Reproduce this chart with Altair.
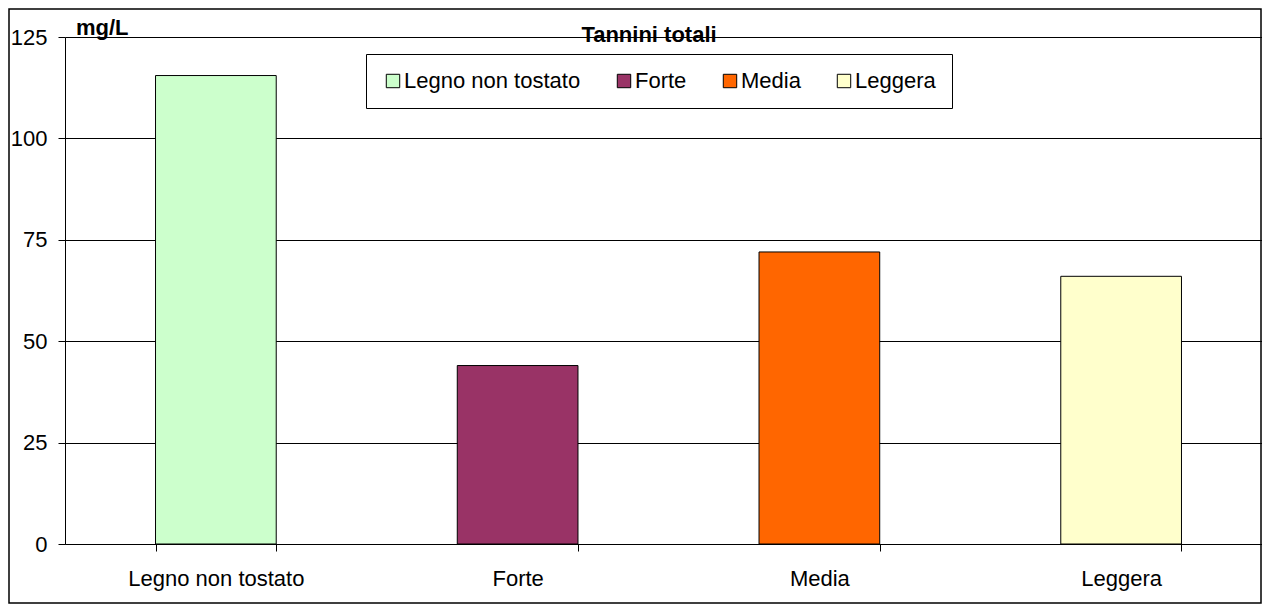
import altair as alt
import pandas as pd

categories = ["Legno non tostato", "Forte", "Media", "Leggera"]
values = [115.5, 44, 72, 66]
colors = ["#CCFFCC", "#993366", "#FF6600", "#FFFFCC"]
y_ticks = [0, 25, 50, 75, 100, 125]
title_text = ["Tannini totali"]
unit_text = ["mg/L"]

df = pd.DataFrame({"cat": categories, "val": values})

W, H = 1197, 507
FONT = "Arial"
FS = 22

frame = alt.Chart(pd.DataFrame({"a": [0]})).mark_rect(
    filled=False, stroke="black", strokeWidth=1.5
).encode(
    x=alt.value(-56), x2=alt.value(1196), y=alt.value(-28), y2=alt.value(566)
)

bars = alt.Chart(df).mark_bar(stroke="black", strokeWidth=1).encode(
    x=alt.X("cat:N", sort=categories, title=None,
            scale=alt.Scale(paddingInner=0.6, paddingOuter=0.3, range=[0, 1207]),
            axis=alt.Axis(labelAngle=0, tickBand="extent", domainColor="black",
                          tickColor="black", tickSize=7, labelFontSize=FS,
                          labelFont=FONT, labelColor="black", labelPadding=17,
                          labelLimit=400, grid=False)),
    y=alt.Y("val:Q", title=None, scale=alt.Scale(domain=[0, 125], nice=False),
            axis=alt.Axis(values=y_ticks, grid=True, gridColor="black",
                          gridOpacity=1, domainColor="black", tickColor="black",
                          tickSize=7, labelFontSize=FS, labelFont=FONT,
                          labelColor="black", labelPadding=11)),
    color=alt.Color("cat:N", sort=categories,
                    scale=alt.Scale(domain=categories, range=colors),
                    legend=alt.Legend(title=None, orient="none", legendX=301,
                                      legendY=17, direction="horizontal",
                                      columns=4, fillColor="white",
                                      strokeColor="black", padding=16,
                                      symbolType="square", symbolSize=180,
                                      symbolStrokeColor="black",
                                      symbolStrokeWidth=1, symbolOpacity=1,
                                      labelFontSize=FS, labelFont=FONT,
                                      labelColor="black", labelOffset=0,
                                      labelLimit=400, columnPadding=32)),
)

title = alt.Chart(pd.DataFrame({"t": title_text})).mark_text(
    font=FONT, fontSize=FS, fontWeight="bold", color="black",
    align="center", baseline="alphabetic"
).encode(text="t:N", x=alt.value(584), y=alt.value(4.5))

unit = alt.Chart(pd.DataFrame({"t": unit_text})).mark_text(
    font=FONT, fontSize=FS, fontWeight="bold", color="black",
    align="left", baseline="alphabetic"
).encode(text="t:N", x=alt.value(11), y=alt.value(-2))

chart = alt.layer(frame, bars, title, unit).properties(
    width=W, height=H,
    autosize=alt.AutoSizeParams(type="none"),
    padding={"left": 57, "top": 29, "right": 0, "bottom": 60},
).configure_view(stroke="transparent")

chart.save("out.html", embed_options={"renderer": "svg", "actions": False})
